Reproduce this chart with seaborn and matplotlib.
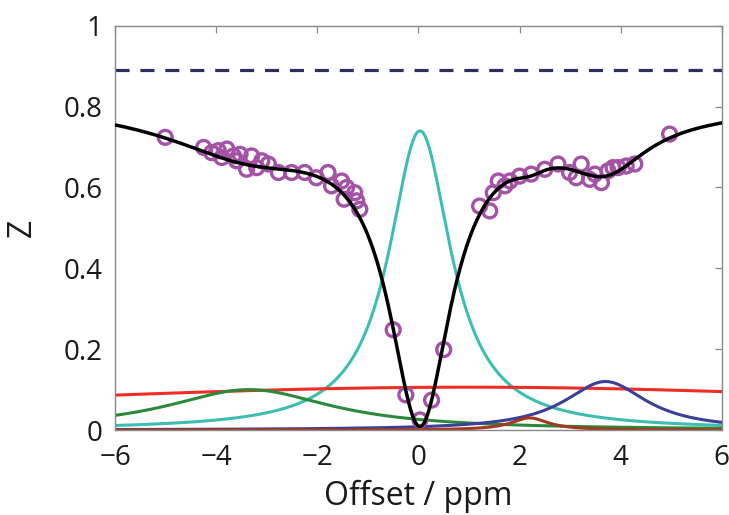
import numpy as np
import pandas as pd
import matplotlib
matplotlib.use("Agg")
import matplotlib.pyplot as plt
import seaborn as sns

# ---- data ----
# measured Z-spectrum points (offset ppm, Z)
pt_offset = [-5.01, -4.25, -4.09, -3.96, -3.79, -3.89, -3.66, -3.53, -3.60, -3.30,
             -3.40, -3.20, -3.10, -2.97, -2.77, -2.51, -2.25, -2.02, -1.79, -1.72,
             -1.52, -1.42, -1.26, -1.47, -1.22, -1.16,
             -0.50, -0.25, 0.03, 0.26, 0.50,
             1.21, 1.41, 1.48, 1.58, 1.71, 1.81, 2.00, 2.23, 2.50, 2.76,
             2.99, 3.22, 3.12, 3.39, 3.49, 3.62, 3.75, 3.85, 3.95, 4.11, 4.28, 4.97]
pt_z = [0.724, 0.699, 0.686, 0.691, 0.695, 0.674, 0.678, 0.682, 0.666, 0.678,
        0.645, 0.649, 0.666, 0.658, 0.637, 0.637, 0.637, 0.624, 0.637, 0.604,
        0.616, 0.600, 0.587, 0.571, 0.567, 0.546,
        0.248, 0.087, 0.025, 0.074, 0.199,
        0.554, 0.542, 0.587, 0.616, 0.604, 0.616, 0.628, 0.633, 0.645, 0.658,
        0.637, 0.658, 0.624, 0.620, 0.633, 0.612, 0.641, 0.649, 0.649, 0.653, 0.658, 0.732]

# fitted Lorentzian pools: name, amplitude, centre (ppm), half width (ppm)
pool_names = ["water", "MT", "NOE", "amide", "amine"]
pool_amp = [0.74, 0.106, 0.100, 0.120, 0.030]
pool_center = [0.03, 1.0, -3.35, 3.70, 2.20]
pool_width = [0.75, 14.7, 2.0, 1.0, 0.45]
pool_colors = ["#3dbfb0", "#ee2d24", "#2a8a3a", "#3b3f9a", "#a33a1e"]

z0_level = 0.89          # dashed reference level
x_ticks = [-6, -4, -2, 0, 2, 4, 6]
y_ticks = [0, 0.2, 0.4, 0.6, 0.8, 1]
y_ticklabels = ["0", "0.2", "0.4", "0.6", "0.8", "1"]

# ---- build model curves ----
x = np.linspace(-6, 6, 1201)
rows = []
total = np.zeros_like(x)
for n, a, c, w in zip(pool_names, pool_amp, pool_center, pool_width):
    y = a / (1 + ((x - c) / w) ** 2)
    total += y
    rows.append(pd.DataFrame({"offset": x, "z": y, "pool": n}))
pools_df = pd.concat(rows, ignore_index=True)
fit_df = pd.DataFrame({"offset": x, "z": z0_level - total})
ref_df = pd.DataFrame({"offset": [-6, 6], "z": [z0_level, z0_level]})
pts_df = pd.DataFrame({"offset": pt_offset, "z": pt_z})

# ---- figure ----
sns.set_theme(style="white")
plt.rcParams["font.family"] = ["Open Sans", "DejaVu Sans"]
fig = plt.figure(figsize=(7.29, 5.15), dpi=100)
ax = fig.add_axes([0.158, 0.165, 0.990 - 0.158, 0.950 - 0.165])

sns.lineplot(data=pools_df, x="offset", y="z", hue="pool", hue_order=pool_names,
             palette=pool_colors, linewidth=2.2, legend=False, ax=ax, zorder=2)
sns.lineplot(data=ref_df, x="offset", y="z", color="#2f2f5f", linewidth=2.3,
             dashes=False, ax=ax, zorder=2)
ax.lines[-1].set_dashes([4.4, 3.4])
sns.scatterplot(data=pts_df, x="offset", y="z", s=100, facecolor="none",
                edgecolor="#a352a5", linewidth=2.4, ax=ax, zorder=3)
sns.lineplot(data=fit_df, x="offset", y="z", color="black", linewidth=2.5,
             ax=ax, zorder=4)

ax.set_xlim(-6, 6)
ax.set_ylim(0, 1)
ax.set_xticks(x_ticks)
ax.set_xticklabels(["\u22126", "\u22124", "\u22122", "0", "2", "4", "6"])
ax.set_yticks(y_ticks)
ax.set_yticklabels(y_ticklabels)
ax.tick_params(axis="both", direction="in", length=5, width=0.9, color="#888888",
               labelsize=20, top=True, right=True, pad=10, labelcolor="#1a1a1a")
ax.tick_params(axis="y", pad=9)
for sp in ax.spines.values():
    sp.set_color("#888888")
    sp.set_linewidth(1.0)
    sp.set_visible(True)
ax.set_xlabel("Offset / ppm", fontsize=23, color="#1a1a1a", labelpad=6)
ax.set_ylabel("Z", fontsize=23, color="#1a1a1a", labelpad=18)

fig.savefig("out.png", dpi=100, facecolor="white")
